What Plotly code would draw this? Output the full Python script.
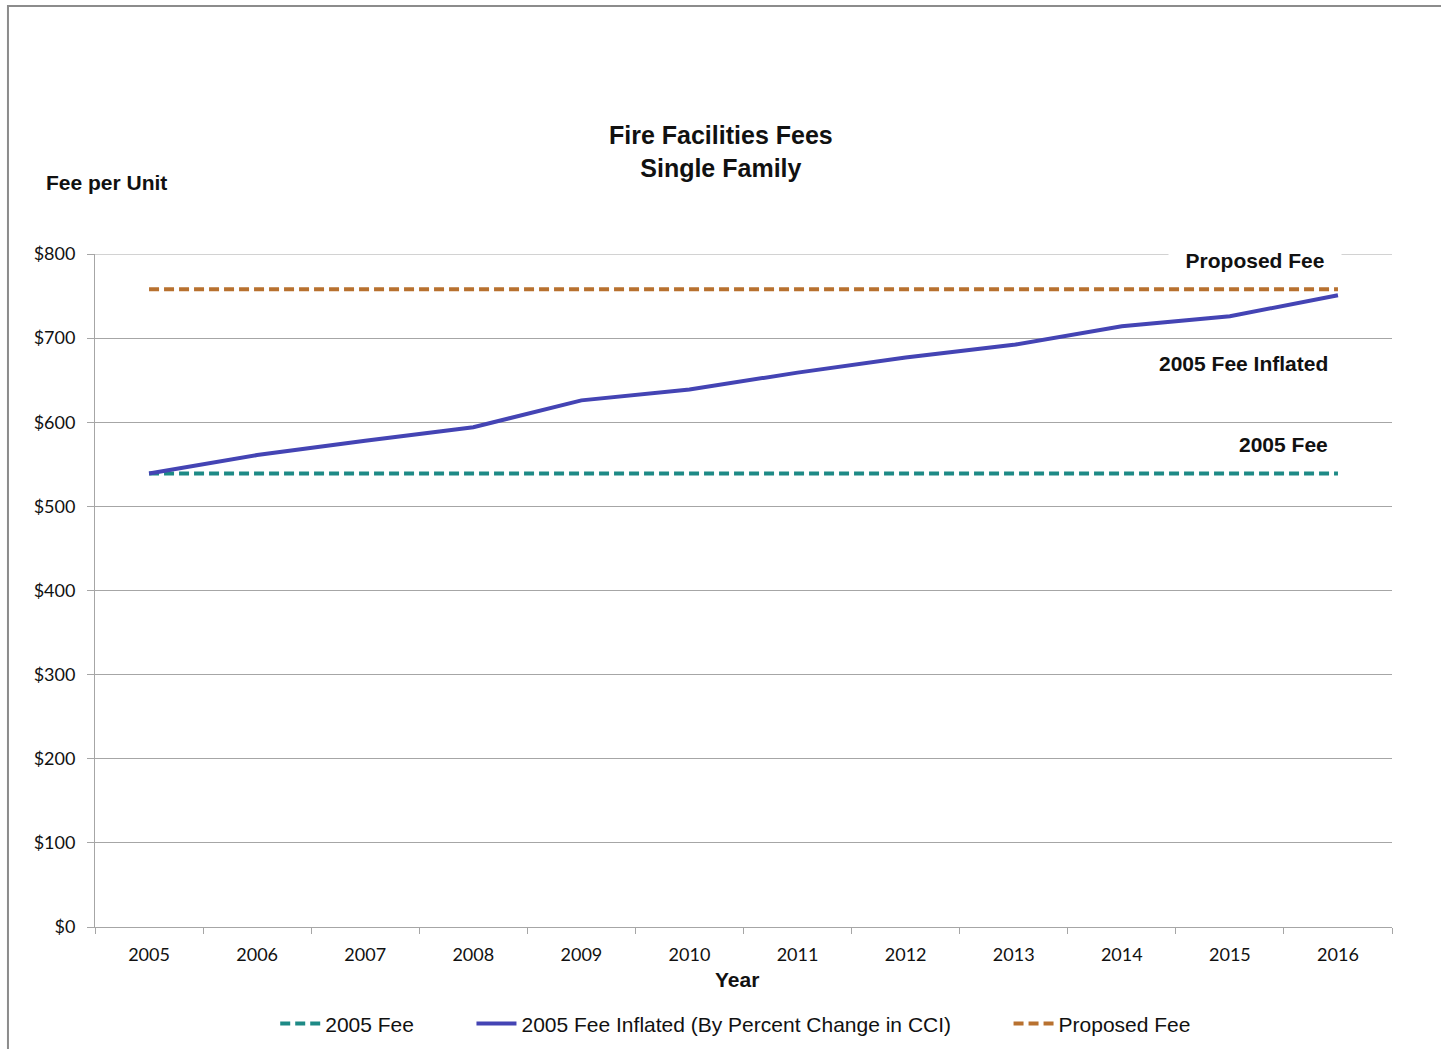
import plotly.graph_objects as go

# Fire facilities fee per single-family unit
years = ["2005", "2006", "2007", "2008", "2009", "2010",
         "2011", "2012", "2013", "2014", "2015", "2016"]
fee_2005 = [539] * 12
fee_inflated = [539, 561, 578, 594, 626, 639, 659, 677, 692, 714, 726, 751]
fee_proposed = [758] * 12

y_ticks = [0, 100, 200, 300, 400, 500, 600, 700, 800]

TEAL = "#1E8A86"
BLUE = "#4444B4"
ORANGE = "#B8712F"
GRID = "#A6A6A6"
SANS = "Liberation Sans, Arial, sans-serif"
TICKFONT = dict(family="Lato, Calibri, sans-serif", size=18, color="#111111")
GAP = "\u00a0" * 9  # extra room between legend entries

fig = go.Figure()
fig.add_trace(go.Scatter(
    x=years, y=fee_2005, mode="lines", name="2005 Fee" + GAP,
    line=dict(color=TEAL, width=4, dash="10px,5px")))
fig.add_trace(go.Scatter(
    x=years, y=fee_inflated, mode="lines",
    name="2005 Fee Inflated (By Percent Change in CCI)" + GAP,
    line=dict(color=BLUE, width=4)))
fig.add_trace(go.Scatter(
    x=years, y=fee_proposed, mode="lines", name="Proposed Fee",
    line=dict(color=ORANGE, width=4, dash="10px,5px")))

fig.update_layout(
    width=1441, height=1049,
    margin=dict(l=95, r=49, t=254, b=122, autoexpand=False),
    paper_bgcolor="white", plot_bgcolor="white",
    showlegend=True,
    legend=dict(orientation="h", x=0.494, xanchor="center",
                y=-0.144, yanchor="middle",
                font=dict(family=SANS, size=21, color="#111111"),
                itemwidth=40, tracegroupgap=0),
    xaxis=dict(type="category", categoryorder="array", categoryarray=years,
               range=[-0.5, 11.5], showgrid=False,
               showline=True, linecolor=GRID, linewidth=1,
               ticks="outside", tickson="boundaries", ticklen=6,
               tickcolor=GRID, tickfont=TICKFONT, ticklabelstandoff=11),
    yaxis=dict(range=[0, 800], tickvals=y_ticks, tickformat="$,.0f",
               showgrid=True, gridcolor=GRID, gridwidth=1, zeroline=False,
               showline=True, linecolor=GRID, linewidth=1,
               ticks="outside", ticklen=7, tickcolor=GRID,
               tickfont=TICKFONT, ticklabelstandoff=8),
    shapes=[
        dict(type="rect", xref="paper", yref="paper",
             x0=-0.0671, x1=1.2, y0=-0.4, y1=1.3685,
             line=dict(color="#8C8C8C", width=2), layer="below"),
        # top gridline at the upper end of the value axis
        dict(type="line", xref="paper", yref="y",
             x0=-0.0054, x1=1, y0=y_ticks[-1], y1=y_ticks[-1],
             line=dict(color=GRID, width=1), layer="below"),
    ],
)

bold = dict(family=SANS, size=21, color="#111111")
fig.add_annotation(text="<b>Fire Facilities Fees<br>Single Family</b>",
                   xref="paper", yref="paper", x=0.4826, y=1.1516,
                   xanchor="center", yanchor="middle", showarrow=False,
                   font=dict(family=SANS, size=25, color="#111111"))
fig.add_annotation(text="<b>Fee per Unit</b>", xref="paper", yref="paper",
                   x=-0.0393, y=1.1055, xanchor="left", yanchor="middle",
                   showarrow=False, font=bold)
fig.add_annotation(text="<b>Year</b>", xref="paper", yref="paper",
                   x=0.495, y=-0.0773, xanchor="center", yanchor="middle",
                   showarrow=False, font=bold)
fig.add_annotation(text="<b>Proposed Fee</b>", xref="paper", yref="y",
                   x=0.9615, y=792, xanchor="right", yanchor="middle",
                   showarrow=False, font=bold, bgcolor="white",
                   width=170, borderpad=1)
fig.add_annotation(text="<b>2005 Fee Inflated</b>", xref="paper", yref="y",
                   x=0.9522, y=670, xanchor="right", yanchor="middle",
                   showarrow=False, font=bold)
fig.add_annotation(text="<b>2005 Fee</b>", xref="paper", yref="y",
                   x=0.9522, y=573, xanchor="right", yanchor="middle",
                   showarrow=False, font=bold)

fig.write_html("out.html")
